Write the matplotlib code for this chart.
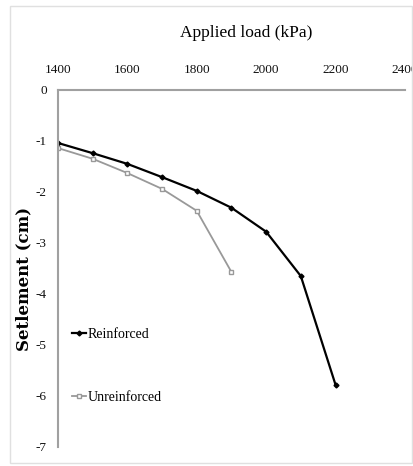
import matplotlib.pyplot as plt
from matplotlib.patches import Rectangle

# data
load_reinforced = [1400, 1500, 1600, 1700, 1800, 1900, 2000, 2100, 2200]
settle_reinforced = [-1.04, -1.24, -1.45, -1.71, -1.98, -2.31, -2.78, -3.65, -5.78]

load_unreinforced = [1400, 1500, 1600, 1700, 1800, 1900]
settle_unreinforced = [-1.14, -1.35, -1.63, -1.94, -2.37, -3.57]

x_ticks = [1400, 1600, 1800, 2000, 2200, 2400]
y_ticks = [0, -1, -2, -3, -4, -5, -6, -7]

plt.rcParams["font.family"] = ["Liberation Serif", "DejaVu Serif"]
plt.rcParams["axes.unicode_minus"] = False

fig = plt.figure(figsize=(4.14, 4.66), dpi=100)
ax = fig.add_axes([0.140, 0.041, 0.838, 0.766])

ax.plot(load_reinforced, settle_reinforced, color="black", lw=1.6,
        marker="D", ms=2.5, label="Reinforced")
ax.plot(load_unreinforced, settle_unreinforced, color="#999999", lw=1.3,
        marker="s", ms=3.5, mfc="white", mec="#999999", label="Unreinforced")

ax.set_xlim(1400, 2400)
ax.set_ylim(-7, 0)
ax.set_xticks(x_ticks)
ax.set_yticks(y_ticks)
ax.xaxis.tick_top()
ax.xaxis.set_label_position("top")
ax.tick_params(length=0, labelsize=9.5, pad=10, labelcolor="#111111")
ax.tick_params(axis="y", pad=8)

for side in ["right", "bottom"]:
    ax.spines[side].set_visible(False)
for side in ["left", "top"]:
    ax.spines[side].set_color("#a0a0a0")
    ax.spines[side].set_linewidth(1.5)

ax.set_xlabel("Applied load (kPa)", fontsize=12.5, va="center")
ax.xaxis.set_label_coords(0.543, 1.16)
ax.set_ylabel("Setlement (cm)", fontsize=12, fontweight="bold",
              family="DejaVu Serif", va="center")
ax.yaxis.set_label_coords(-0.097, 0.47)

ax.legend(loc="lower left", bbox_to_anchor=(0.005, 0.085), frameon=False,
          fontsize=10, handlelength=1.0, handletextpad=0.1,
          labelspacing=3.6, borderaxespad=0.5)

fig.patches.append(Rectangle((10 / 414, 3 / 466), 402 / 414, 457 / 466,
                             transform=fig.transFigure, fill=False,
                             edgecolor="#e0e0e0", lw=1))

fig.savefig("out.png", dpi=100)
